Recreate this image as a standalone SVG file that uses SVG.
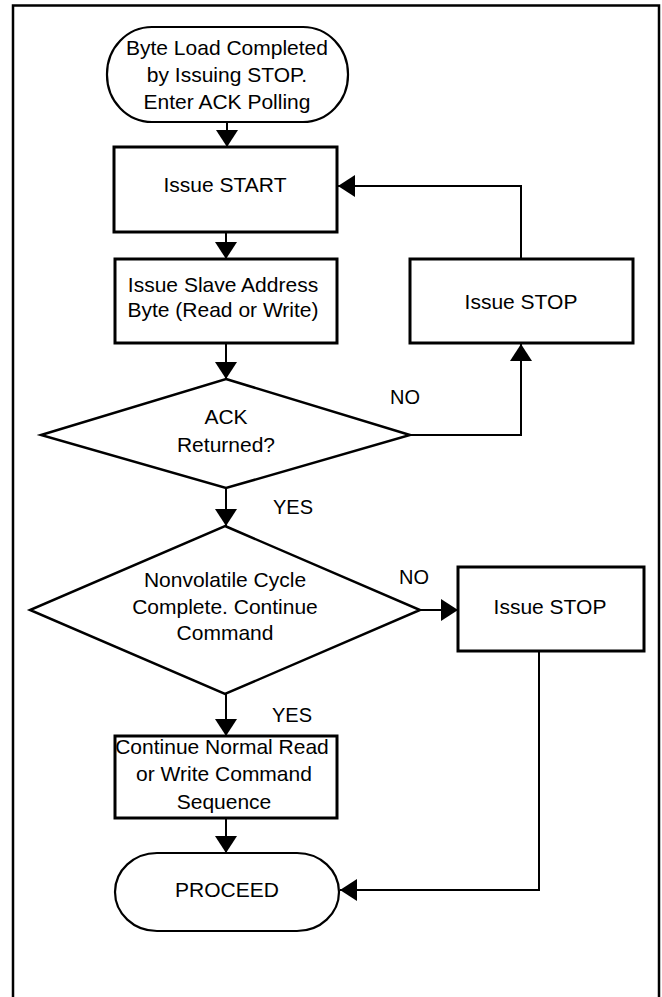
<svg xmlns="http://www.w3.org/2000/svg" width="662" height="997" viewBox="0 0 662 997">
<style>
text{font-family:"Liberation Sans",Arial,sans-serif;font-size:21px;fill:#000;text-anchor:middle}
.box{fill:#fff;stroke:#000;stroke-width:3}
.term{fill:#fff;stroke:#000;stroke-width:2.2}
.dia{fill:#fff;stroke:#000;stroke-width:2.5}
.ln{fill:none;stroke:#000;stroke-width:2}
.lbl{font-size:20px}
</style>
<defs>
<marker id="ah" viewBox="0 0 17 22" refX="17" refY="11" markerWidth="17" markerHeight="22" markerUnits="userSpaceOnUse" orient="auto">
<path d="M0,0 L17,11 L0,22 Z" fill="#000"/>
</marker>
</defs>
<rect x="0" y="0" width="662" height="997" fill="#fff"/>
<rect x="13" y="5.5" width="646" height="1010" fill="none" stroke="#000" stroke-width="2.5"/>

<g id="connectors">
<line class="ln" x1="227" y1="122" x2="227" y2="147" marker-end="url(#ah)"/>
<line class="ln" x1="226" y1="232" x2="226" y2="259" marker-end="url(#ah)"/>
<line class="ln" x1="226" y1="343" x2="226" y2="379" marker-end="url(#ah)"/>
<polyline class="ln" points="410,435 521,435 521,344" marker-end="url(#ah)"/>
<polyline class="ln" points="521,259 521,186 338,186" marker-end="url(#ah)"/>
<line class="ln" x1="226" y1="488" x2="226" y2="526" marker-end="url(#ah)"/>
<line class="ln" x1="420" y1="610" x2="458" y2="610" marker-end="url(#ah)"/>
<line class="ln" x1="226" y1="694" x2="226" y2="736" marker-end="url(#ah)"/>
<line class="ln" x1="226" y1="818" x2="226" y2="853" marker-end="url(#ah)"/>
<polyline class="ln" points="539,651 539,890 340,890" marker-end="url(#ah)"/>
<text class="lbl" x="405" y="404">NO</text>
<text class="lbl" x="293" y="514">YES</text>
<text class="lbl" x="414" y="584">NO</text>
<text class="lbl" x="292" y="722">YES</text>
</g>

<g id="start">
<rect class="term" x="107" y="27" width="241" height="95" rx="45" ry="47"/>
<text x="227" y="55">Byte Load Completed</text>
<text x="227" y="82">by Issuing STOP.</text>
<text x="227" y="109">Enter ACK Polling</text>
</g>

<g id="issue-start">
<rect class="box" x="114" y="147" width="223" height="85"/>
<text x="225" y="192">Issue START</text>
</g>

<g id="slave-address">
<rect class="box" x="115" y="259" width="222" height="84"/>
<text x="223" y="292">Issue Slave Address</text>
<text x="223" y="317">Byte (Read or Write)</text>
</g>

<g id="issue-stop-1">
<rect class="box" x="410" y="259" width="223" height="84"/>
<text x="521" y="309">Issue STOP</text>
</g>

<g id="ack-returned">
<polygon class="dia" points="226,379 410,435 226,488 41,435"/>
<text x="226" y="424">ACK</text>
<text x="226" y="452">Returned?</text>
</g>

<g id="nonvolatile">
<polygon class="dia" points="225,526 420,610 225,694 30,610"/>
<text x="225" y="587">Nonvolatile Cycle</text>
<text x="225" y="614">Complete. Continue</text>
<text x="225" y="640">Command</text>
</g>

<g id="issue-stop-2">
<rect class="box" x="458" y="567" width="186" height="84"/>
<text x="550" y="614">Issue STOP</text>
</g>

<g id="continue">
<rect class="box" x="115" y="736" width="222" height="82"/>
<text x="222" y="754">Continue Normal Read</text>
<text x="224" y="781">or Write Command</text>
<text x="224" y="809">Sequence</text>
</g>

<g id="proceed">
<rect class="term" x="115" y="853" width="224" height="78" rx="42" ry="39"/>
<text x="227" y="897">PROCEED</text>
</g>
</svg>
